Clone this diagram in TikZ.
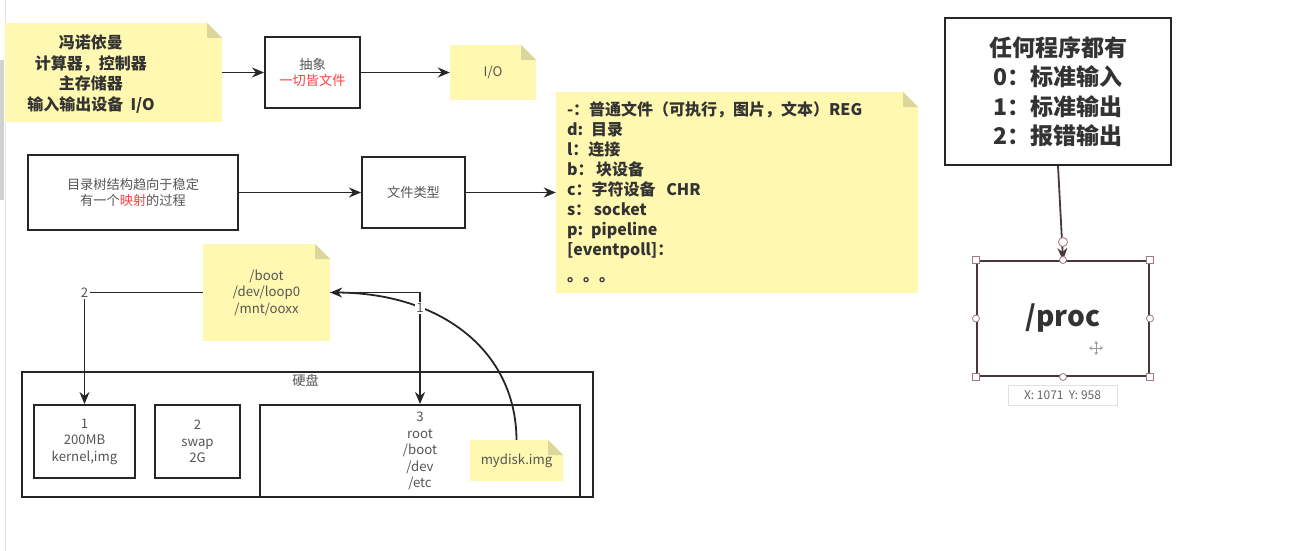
\documentclass[tikz,border=0pt]{standalone}
\usepackage{fontspec}
\setmainfont{Noto Sans CJK SC}
\usetikzlibrary{arrows.meta,calc}
\definecolor{noteyellow}{HTML}{FFF8B0}
\definecolor{notefold}{HTML}{DCD69A}
\definecolor{txtdark}{HTML}{333333}
\definecolor{txtgray}{HTML}{555555}
\definecolor{txtred}{HTML}{FF3B3B}
\definecolor{selbrown}{HTML}{A07A7A}
\definecolor{boxbrown}{HTML}{4A3838}

\begin{document}
\begin{tikzpicture}[x=1pt,y=-1pt,
  arr/.style={-{Stealth[length=12pt,width=10pt]}, line width=1.8pt, draw=black!85}]

  % Define node styles
  \tikzset{rectnode/.style={draw=black!85, line width=2pt, rectangle, inner sep=0pt, align=center, text=txtgray, font=\fontsize{13.2}{16.5}\selectfont},
    notenode/.style={fill=noteyellow, rectangle, inner sep=0pt, align=center, text=txtgray, font=\fontsize{13.2}{16.5}\selectfont,
      path picture={
        \fill[white] ([xshift=-15pt]path picture bounding box.north east) -- (path picture bounding box.north east) -- ([yshift=-15pt]path picture bounding box.north east) -- cycle;
        \fill[notefold] ([xshift=-15pt]path picture bounding box.north east) -- ([xshift=-15pt,yshift=-15pt]path picture bounding box.north east) -- ([yshift=-15pt]path picture bounding box.north east) -- cycle;}},
    smalltxt/.style={text=txtgray, font=\fontsize{13.2}{16.5}\selectfont, inner sep=1.5pt},
    boldtxt/.style={font=\bfseries\fontsize{16}{20.5}\selectfont, text=txtdark},
    selhandle/.style={draw=selbrown, fill=white, line width=0.8pt, inner sep=0pt, minimum size=7pt}}

  \useasboundingbox (0,0) rectangle (1290,551);
  \fill[black!18] (0,60) rectangle (4,200);
  \draw[black!10] (5,0) -- (5,551);

  % Nodes
  \node[notenode, minimum width=217pt, minimum height=99pt] (vonneumann) at (113.5,72.5) {};
  \node[boldtxt, align=center] at (91,74) {冯诺依曼\\计算器，控制器\\主存储器\\输入输出设备\ \ I/O};
  \node[rectnode, minimum width=95pt, minimum height=71pt] (abstract) at (312.5,72.5) {抽象\\\textcolor{txtred}{一切皆文件}};
  \node[notenode, minimum width=86pt, minimum height=55pt] (io) at (493,72.5) {I/O};

  \node[rectnode, minimum width=210pt, minimum height=75pt] (dirtree) at (133,192.5) {目录树结构趋向于稳定\\有一个\textcolor{txtred}{映射}的过程};
  \node[rectnode, minimum width=103pt, minimum height=71pt] (filetype) at (413.5,192.5) {文件类型};
  \node[notenode, align=left, text=txtdark, font=\bfseries\fontsize{16}{20}\selectfont, text width=340pt, inner xsep=11pt, minimum height=201pt] (filetypes) at (737,192.5)
    {-：普通文件（可执行，图片，文本）REG\\d: 目录\\l：连接\\b：\,块设备\\c：字符设备\ \ CHR\\s：\,socket\\p: pipeline\\{[}eventpoll{]}：\\[6pt]。。。};

  \node[rectnode, text=txtdark, font=\bfseries\fontsize{23}{29.5}\selectfont, minimum width=226pt, minimum height=147pt] (fd) at (1058,91.5) {任何程序都有\\0：标准输入\\1：标准输出\\2：报错输出};
  \node[rectnode, draw=boxbrown, text=txtdark, font=\bfseries\fontsize{28}{32}\selectfont, minimum width=172pt, minimum height=115pt] (proc) at (1063,318.5) {/proc};
  \node[draw=black!12, fill=white, minimum width=109pt, minimum height=20pt, inner sep=0pt, text=black!60, font=\fontsize{12}{14}\selectfont] (tip) at (1062.5,395) {X: 1071\ \ Y: 958};

  \node[notenode, minimum width=127pt, minimum height=97pt] (mount) at (266.5,292.5) {/boot\\/dev/loop0\\/mnt/ooxx};
  \node[rectnode, minimum width=571pt, minimum height=125pt] (disk) at (307.5,434.5) {};
  \node[smalltxt, anchor=north] at ([xshift=-2pt,yshift=-2pt]disk.north) {硬盘};
  \node[rectnode, minimum width=101pt, minimum height=73pt] (part1) at (84.5,441.5) {1\\200MB\\kernel,img};
  \node[rectnode, minimum width=85pt, minimum height=73pt] (part2) at (197.5,441.5) {2\\swap\\2G};
  \node[rectnode, minimum width=320pt, minimum height=92pt] (part3) at (420,451) {3\\root\\/boot\\/dev\\/etc};
  \node[notenode, minimum width=93pt, minimum height=41pt] (mydisk) at (516.5,460.5) {mydisk.img};

  % Connectors
  \draw[arr] (vonneumann.east) -- (abstract.west);
  \draw[arr] (abstract.east) -- (io.west);
  \draw[arr] (dirtree.east) -- (filetype.west);
  \draw[arr] (filetype.east) -- (filetypes.west);
  \draw[arr, draw=boxbrown] (fd.south) -- (proc.north);
  \draw[arr] (mydisk.north) .. controls (516,350) and (440,293) .. (mount.east);
  \draw[arr] (mount.west) -| (part1.north) node[pos=0.5, fill=white, smalltxt] {2};
  \draw[arr] (mount.east) -| (part3.north) node[pos=0.57, fill=white, smalltxt] {1};

  % Selection handles
  \foreach \a in {north west,north east,south west,south east}
    \node[selhandle, rectangle] at (proc.\a) {};
  \foreach \a in {north,south,east,west}
    \node[selhandle, circle] at (proc.\a) {};
  \node[selhandle, circle, minimum size=9pt] at ([yshift=18pt]proc.north) {};
  \foreach \ang in {0,90,180,270}
    \draw[-{Stealth[length=3pt,width=4pt]}, black!40, line width=0.9pt] (1096,348) -- ++(\ang:7);
\end{tikzpicture}
\end{document}
